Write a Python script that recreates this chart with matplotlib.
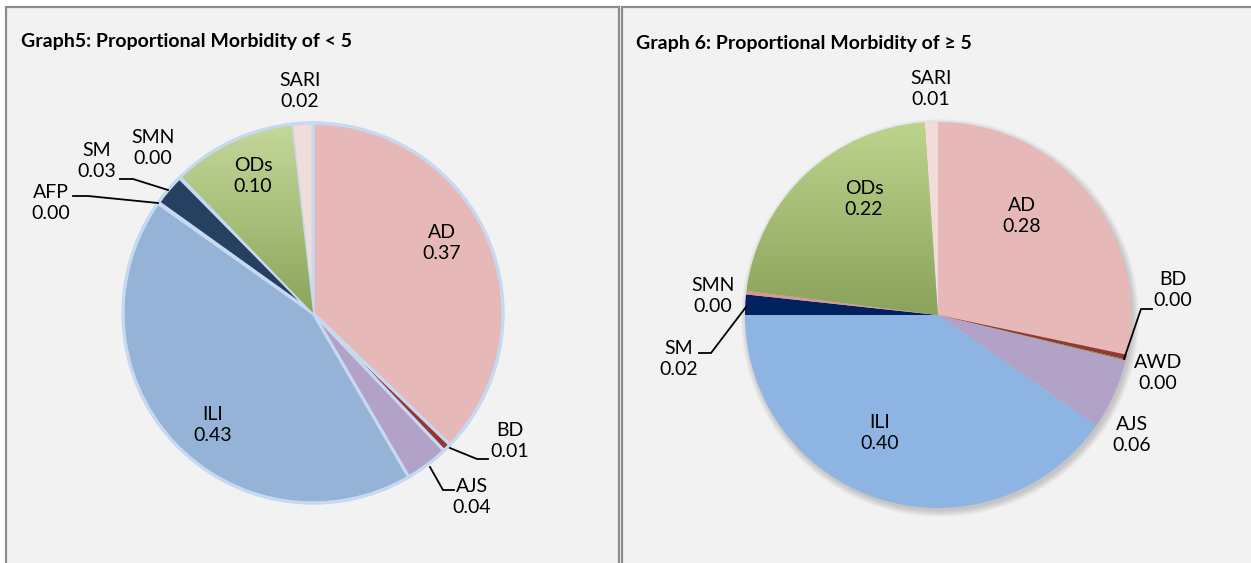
import matplotlib
matplotlib.use("Agg")
import matplotlib.pyplot as plt
import numpy as np
from matplotlib.patches import Rectangle, Circle
from matplotlib.colors import to_rgb

plt.rcParams['font.family'] = ['Lato', 'DejaVu Sans']

# ---------------- data ----------------
title_left = "Graph5: Proportional Morbidity of < 5"
title_right = "Graph 6: Proportional Morbidity of \u2265 5"

cats_left = ["AD", "BD", "AJS", "ILI", "AFP", "SM", "SMN", "ODs", "SARI"]
vals_left = [0.372, 0.007, 0.037, 0.432, 0.001, 0.027, 0.002, 0.104, 0.018]
cols_left = ["#e6b9b8", "#953735", "#b3a2c7", "#95b3d7", "#b9cde5",
             "#254061", "#d99694", "#b4cc82", "#f2dcdb"]

cats_right = ["AD", "BD", "AWD", "AJS", "ILI", "SM", "SMN", "ODs", "SARI"]
vals_right = [0.283, 0.004, 0.001, 0.059, 0.403, 0.017, 0.003, 0.219, 0.011]
cols_right = ["#e6b9b8", "#953735", "#77933c", "#b3a2c7", "#8db4e2",
              "#002060", "#d99694", "#b4cc82", "#f2dcdb"]

# --------------- figure ---------------
W, H = 1251, 563
fig = plt.figure(figsize=(W / 100, H / 100), dpi=100, facecolor="white")
ax = fig.add_axes([0, 0, 1, 1])
ax.set_axis_off()

# panels
ax.add_patch(Rectangle((6, 7), 613, 600, facecolor="#f2f2f2",
                       edgecolor="#8c8c8c", lw=1.6, zorder=0))
ax.add_patch(Rectangle((621.5, 7), 700, 600, facecolor="#f2f2f2",
                       edgecolor="#8c8c8c", lw=1.6, zorder=0))

ax.text(21, 41, title_left, fontsize=14, fontweight="bold", ha="left",
        va="center", color="#000000")
ax.text(636, 43, title_right, fontsize=14, fontweight="bold", ha="left",
        va="center", color="#000000")


def gradient_fill(wedge, top, bottom):
    ext = wedge.get_path().get_extents()
    x0, y0, x1, y1 = ext.x0, ext.y0, ext.x1, ext.y1
    n = 200
    t = np.linspace(0, 1, n)[:, None]
    c0 = np.array(to_rgb(top))
    c1 = np.array(to_rgb(bottom))
    img = (c0 * (1 - t) + c1 * t)[:, None, :]
    im = ax.imshow(img, extent=[x0, x1, y1, y0], origin="upper",
                   aspect="auto", zorder=wedge.get_zorder() + 0.1,
                   interpolation="bilinear")
    im.set_clip_path(wedge)


# ---- left pie ----
cxL, cyL, rL = 313, 313, 190
wl, _ = ax.pie(vals_left, colors=cols_left, radius=rL, center=(cxL, cyL),
               startangle=270, counterclock=True, frame=True,
               wedgeprops=dict(edgecolor="#c6d9f1", linewidth=2.2))
for w in wl:
    w.set_zorder(2)
gradient_fill(wl[cats_left.index("ODs")], "#c4d89a", "#8da45a")
ax.add_patch(Circle((cxL, cyL), rL, fill=False, edgecolor="#c6d9f1",
                    lw=2.2, zorder=3))

# ---- right pie ----
cxR, cyR, rR = 938, 315, 193
for k in range(8):
    ax.add_patch(Circle((cxR + 2, cyR + 3), rR + 6 - k * 0.9,
                        facecolor="#000000", alpha=0.025, lw=0, zorder=1))
wr, _ = ax.pie(vals_right, colors=cols_right, radius=rR, center=(cxR, cyR),
               startangle=270, counterclock=True, frame=True,
               wedgeprops=dict(edgecolor="none", linewidth=0))
for w in wr:
    w.set_zorder(2)
gradient_fill(wr[cats_right.index("ODs")], "#bcd48d", "#8ba25a")

# ---- labels ----
lab_fs = 14
lab_pos_left = {"AD": (442, 243), "BD": (510, 441), "AJS": (472, 497),
                "ILI": (213, 425), "AFP": (51, 203), "SM": (97, 161),
                "SMN": (153, 148), "ODs": (253, 176), "SARI": (300, 91)}
lab_pos_right = {"AD": (1022, 216), "BD": (1173, 290), "AWD": (1158, 373),
                 "AJS": (1132, 435), "ILI": (880, 433), "SM": (679, 359),
                 "SMN": (713, 296), "ODs": (864, 199), "SARI": (931, 89)}

for cats, vals, pos in ((cats_left, vals_left, lab_pos_left),
                        (cats_right, vals_right, lab_pos_right)):
    for c, v in zip(cats, vals):
        x, y = pos[c]
        ax.text(x, y, f"{c}\n{v:.2f}", fontsize=lab_fs, ha="center",
                va="center", linespacing=1.3, color="#000000", zorder=5)

# leader lines
leaders = [
    [(450, 448), (477, 459), (488, 459)],      # BD left
    [(430, 467), (443, 490), (454, 490)],      # AJS left
    [(120, 179), (133, 179), (168, 190)],      # SM left
    [(73, 196), (88, 196), (158, 203)],        # AFP left
    [(1124, 359), (1141, 309), (1152, 309)],   # BD right
    [(699, 353), (711, 353), (746, 307)],      # SM right
]
for pts in leaders:
    xs, ys = zip(*pts)
    ax.plot(xs, ys, color="#000000", lw=1.3, zorder=6,
            solid_joinstyle="miter")

ax.set_xlim(0, W)
ax.set_ylim(H, 0)
fig.savefig("out.png", dpi=100, facecolor="white")
